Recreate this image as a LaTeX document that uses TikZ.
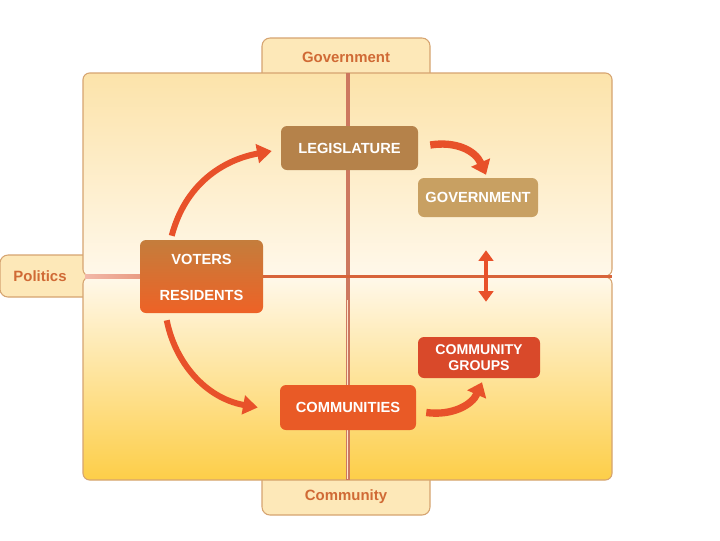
\documentclass[tikz,border=0pt]{standalone}
\usepackage{fontspec}
\setmainfont{Liberation Sans}
\usetikzlibrary{arrows.meta,calc}
\definecolor{tabfill}{HTML}{FDE8B8}
\definecolor{tabline}{HTML}{D6A470}
\definecolor{tabtext}{HTML}{D06A35}
\definecolor{arr}{HTML}{E8512A}
\definecolor{legc}{HTML}{B5824A}
\definecolor{govc}{HTML}{C8A062}
\definecolor{cgc}{HTML}{D9492A}
\definecolor{comc}{HTML}{E95A26}
\definecolor{paneltop}{HTML}{FCE3AA}
\definecolor{panelmid}{HTML}{FFF8EA}
\definecolor{panelbot}{HTML}{FDCE48}
\definecolor{hdivl}{HTML}{F2B8A8}
\definecolor{hdivr}{HTML}{D8643A}
\definecolor{vdiv}{HTML}{CD785F}
\definecolor{vrtop}{HTML}{C47D3C}
\definecolor{vrbot}{HTML}{EE6226}
\tikzset{
  tab/.style={font=\fontsize{11.2}{13}\selectfont\bfseries, text=tabtext},
  box/.style={rounded corners=4.5pt, text=white, font=\fontsize{11}{12.5}\selectfont\bfseries, align=center, inner sep=0pt},
  bigarrow/.style={draw=arr, line width=4.5pt, -{Triangle[length=11pt,width=14pt]}},
  fatarrow/.style={draw=arr, line width=5.5pt, -{Triangle[length=10pt,width=15pt]}},
  dblarrow/.style={draw=arr, line width=2.6pt, {Triangle[length=8pt,width=11pt]}-{Triangle[length=8pt,width=11pt]}}
}
\begin{document}
\begin{tikzpicture}[x=0.75pt,y=-0.75pt]
\useasboundingbox[fill=white] (0,0) rectangle (720,540);
% tabs
\draw[fill=tabfill, draw=tabline, line width=0.8pt, rounded corners=6pt] (262,80) -- (262,38) -- (430,38) -- (430,80);
\draw[fill=tabfill, draw=tabline, line width=0.8pt, rounded corners=6pt] (90,255) -- (0,255) -- (0,297) -- (90,297);
\draw[fill=tabfill, draw=tabline, line width=0.8pt, rounded corners=6pt] (262,470) -- (262,515) -- (430,515) -- (430,470);
% panels
\shade[top color=paneltop, bottom color=panelmid, rounded corners=5pt] (83,73) rectangle (612,276);
\draw[tabline, line width=0.8pt, rounded corners=5pt] (83,73) rectangle (612,276);
\shade[top color=panelmid, bottom color=panelbot, rounded corners=5pt] (83,277) rectangle (612,480);
\draw[tabline, line width=0.8pt, rounded corners=5pt] (83,277) rectangle (612,480);
% tab texts
\node[tab] (tgov) at (346,57) {Government};
\node[tab] (tpol) at (40,276) {Politics};
\node[tab] (tcom) at (346,497) {Community};
% dividers
\shade[left color=hdivl, right color=hdivr] (85,274.8) rectangle (250,278.2);
\fill[hdivr] (249.5,274.8) rectangle (612,278.2);
\fill[vdiv] (345.5,73) rectangle (349.5,480);
\fill[hdivr] (345.5,274.8) rectangle (349.5,278.2);
\draw[white!80!orange, line width=0.6pt] (347.5,300) -- (347.5,479);
% boxes
\node[box, fill=legc, minimum width=102.75pt, minimum height=33pt] (leg) at (349.5,148) {LEGISLATURE};
\node[box, fill=govc, minimum width=90pt, minimum height=29.25pt] (gov) at (478,197.5) {GOVERNMENT};
\node[box, top color=vrtop, bottom color=vrbot, minimum width=92.25pt, minimum height=54.75pt] (vr) at (201.5,276.5) {};
\node[box] (vt) at (201.5,259) {VOTERS};
\node[box] (rs) at (201.5,295) {RESIDENTS};
\node[box, fill=cgc, minimum width=91.5pt, minimum height=30.75pt, font=\fontsize{10.6}{11.5}\selectfont\bfseries] (cg) at (479,357.5) {COMMUNITY\\GROUPS};
\node[box, fill=comc, minimum width=102pt, minimum height=33.75pt] (com) at (348,407.5) {COMMUNITIES};
% arrows
\draw[bigarrow] ($(vr.north west)+(32,-4)$) .. controls (185,185) and (222,160) .. ($(leg.west)+(-9,3)$);
\draw[fatarrow] ($(leg.east)+(12,-3)$) .. controls (455,141) and (475,150) .. ($(gov.north)+(8,-3)$);
\draw[dblarrow] ($(gov.south)+(8,33)$) -- ($(cg.north)+(7,-35)$);
\draw[bigarrow] ($(vr.south west)+(27,7)$) .. controls (175,362) and (205,398) .. ($(com.west)+(-22,0)$);
\draw[fatarrow] ($(com.east)+(10,5)$) .. controls (452,416) and (472,405) .. ($(cg.south)+(3,4)$);
\end{tikzpicture}
\end{document}
